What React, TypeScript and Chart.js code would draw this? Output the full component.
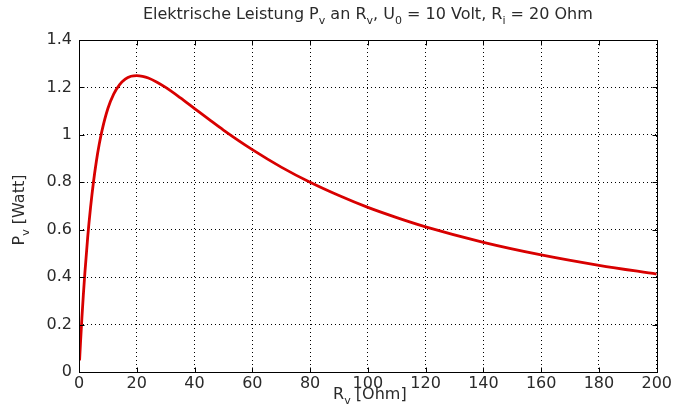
import React, { useEffect, useRef } from 'react';
import { Chart, registerables } from 'chart.js';
Chart.register(...registerables);

// Load resistance R_v [Ohm]
const rv = [0.2, 0.5, 1, 1.5, 2, 3, 4, 5, 6, 7, 8, 10, 12, 14, 16, 18, 20, 22, 24, 27, 30, 35, 40, 45, 50, 60, 70, 80, 90, 100, 110, 120, 140, 160, 180, 200];
// Power P_v [Watt]
const pv = [0.049, 0.119, 0.227, 0.324, 0.413, 0.567, 0.694, 0.8, 0.888, 0.96, 1.02, 1.111, 1.172, 1.211, 1.235, 1.247, 1.25, 1.247, 1.24, 1.222, 1.2, 1.157, 1.111, 1.065, 1.02, 0.9375, 0.864, 0.8, 0.744, 0.694, 0.651, 0.612, 0.547, 0.494, 0.45, 0.413];

const xTicks = [0, 20, 40, 60, 80, 100, 120, 140, 160, 180, 200];
const yTicks = [0, 0.2, 0.4, 0.6, 0.8, 1, 1.2, 1.4];

type Part = { t: string; sub?: boolean };
const titleParts: Part[] = [
  { t: 'Elektrische Leistung P' }, { t: 'v', sub: true },
  { t: ' an R' }, { t: 'v', sub: true },
  { t: ', U' }, { t: '0', sub: true },
  { t: ' = 10 Volt, R' }, { t: 'i', sub: true },
  { t: ' = 20 Ohm' },
];
const xLabelParts: Part[] = [{ t: 'R' }, { t: 'v', sub: true }, { t: ' [Ohm]' }];
const yLabelParts: Part[] = [{ t: 'P' }, { t: 'v', sub: true }, { t: ' [Watt]' }];

const FONT = '"DejaVu Sans", sans-serif';
const TEXT = '#2a2a2a';
const FS = 16;

function drawRich(ctx: CanvasRenderingContext2D, parts: Part[], cx: number, cy: number, size: number) {
  const subSize = Math.round(size * 0.7);
  let total = 0;
  const widths = parts.map((p) => {
    ctx.font = `${p.sub ? subSize : size}px ${FONT}`;
    const w = ctx.measureText(p.t).width;
    total += w;
    return w;
  });
  let x = cx - total / 2;
  ctx.textBaseline = 'middle';
  ctx.textAlign = 'left';
  ctx.fillStyle = TEXT;
  parts.forEach((p, i) => {
    ctx.font = `${p.sub ? subSize : size}px ${FONT}`;
    ctx.fillText(p.t, x, p.sub ? cy + size * 0.38 : cy);
    x += widths[i];
  });
}

const framePlugin = {
  id: 'matlabFrame',
  afterDraw(chart: any) {
    const { ctx, chartArea: a, scales } = chart;
    ctx.save();
    ctx.strokeStyle = '#000';
    ctx.lineWidth = 1;
    ctx.setLineDash([]);
    const L = Math.round(a.left) + 0.5, R = Math.round(a.right) + 0.5;
    const T = Math.round(a.top) + 0.5, B = Math.round(a.bottom) + 0.5;
    ctx.strokeRect(L, T, R - L, B - T);
    // inward ticks
    ctx.beginPath();
    xTicks.forEach((v) => {
      const px = Math.round(scales.x.getPixelForValue(v)) + 0.5;
      ctx.moveTo(px, B); ctx.lineTo(px, B - 5);
      ctx.moveTo(px, T); ctx.lineTo(px, T + 5);
    });
    yTicks.forEach((v) => {
      const py = Math.round(scales.y.getPixelForValue(v)) + 0.5;
      ctx.moveTo(L, py); ctx.lineTo(L + 5, py);
      ctx.moveTo(R, py); ctx.lineTo(R - 5, py);
    });
    ctx.stroke();
    const cx = (a.left + a.right) / 2;
    drawRich(ctx, titleParts, cx, 15, FS);
    drawRich(ctx, xLabelParts, cx + 2, 395, FS);
    ctx.translate(20, (a.top + a.bottom) / 2 + 4);
    ctx.rotate(-Math.PI / 2);
    drawRich(ctx, yLabelParts, 0, 0, FS);
    ctx.restore();
  },
};

export default function App() {
  const ref = useRef<HTMLCanvasElement>(null);
  useEffect(() => {
    document.body.style.margin = '0';
    const chart = new Chart(ref.current!, {
      type: 'line',
      data: {
        datasets: [
          {
            data: rv.map((x, i) => ({ x, y: pv[i] })),
            borderColor: '#d80000',
            borderWidth: 2.8,
            pointRadius: 0,
            cubicInterpolationMode: 'monotone',
            fill: false,
          },
        ],
      },
      options: {
        animation: false,
        responsive: false,
        maintainAspectRatio: false,
        layout: { padding: { top: 40, right: 12, left: 0, bottom: 0 } },
        plugins: { legend: { display: false }, tooltip: { enabled: false }, title: { display: false } },
        scales: {
          x: {
            type: 'linear',
            min: 0,
            max: 200,
            afterBuildTicks: (s: any) => { s.ticks = xTicks.map((v) => ({ value: v })); },
            afterFit: (s: any) => { s.height = 34; },
            ticks: { color: TEXT, font: { family: FONT, size: FS }, padding: 2, maxRotation: 0, callback: (v: any) => String(v) },
            grid: { color: '#000', lineWidth: 1, drawTicks: false },
            border: { display: false, dash: [1, 3] },
          },
          y: {
            type: 'linear',
            min: 0,
            max: 1.4,
            afterBuildTicks: (s: any) => { s.ticks = yTicks.map((v) => ({ value: v })); },
            afterFit: (s: any) => { s.width = 79; },
            ticks: { color: TEXT, font: { family: FONT, size: FS }, padding: 7, callback: (v: any) => String(v) },
            grid: { color: '#000', lineWidth: 1, drawTicks: false },
            border: { display: false, dash: [1, 3] },
          },
        },
      },
      plugins: [framePlugin],
    } as any);
    return () => chart.destroy();
  }, []);
  return <canvas ref={ref} width={674} height={406} style={{ display: 'block' }} />;
}
